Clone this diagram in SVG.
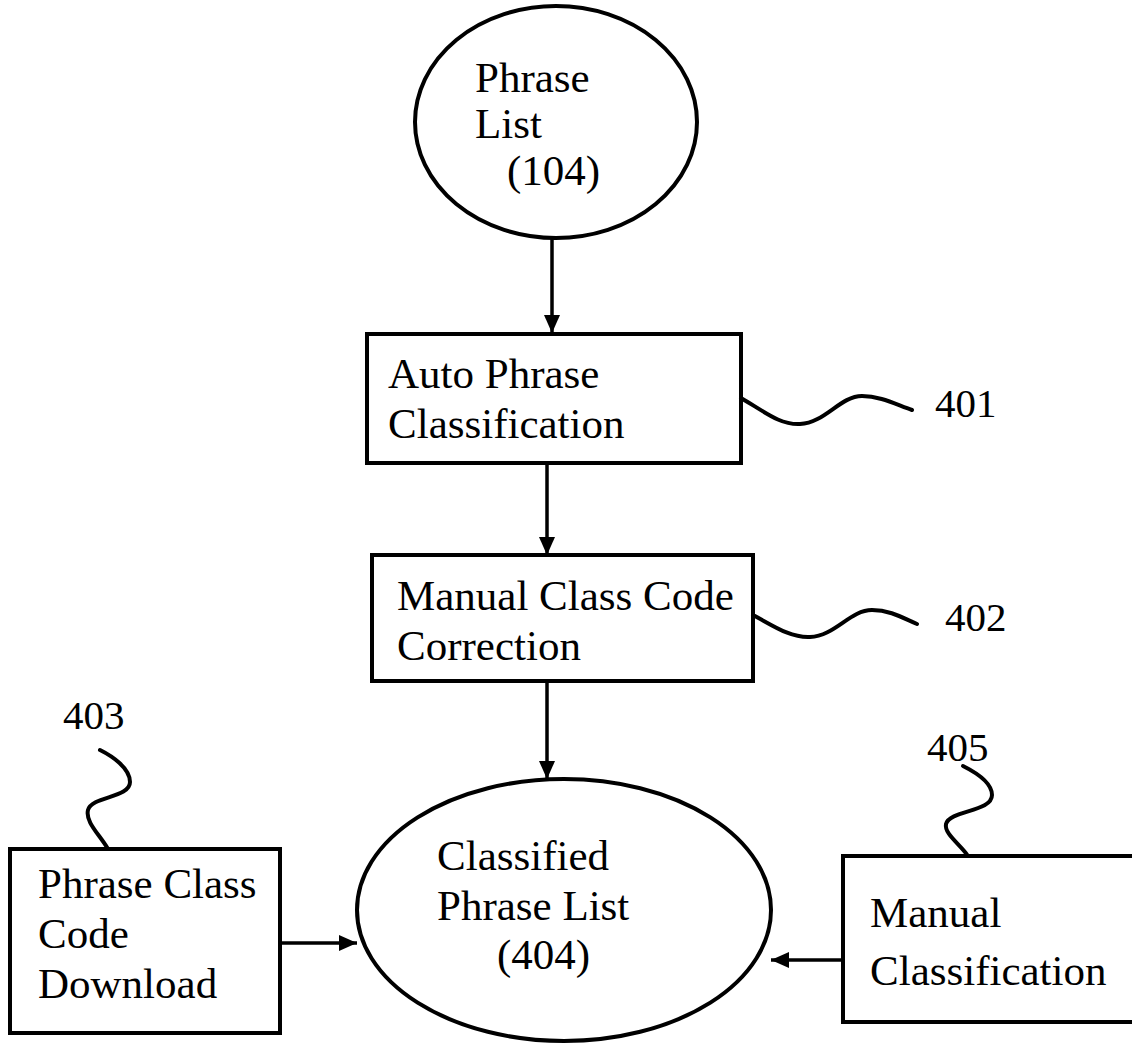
<svg xmlns="http://www.w3.org/2000/svg" width="1132" height="1048" viewBox="0 0 1132 1048">
  <style>
    .shape { fill: #ffffff; stroke: #000000; stroke-width: 4; }
    .conn { fill: none; stroke: #000000; stroke-width: 3.5; }
    .lead { fill: none; stroke: #000000; stroke-width: 4; stroke-linecap: round; }
    .t { font-family: "Liberation Serif", "Times New Roman", serif; font-size: 43px; fill: #000000; }
    .ref { font-family: "Liberation Serif", "Times New Roman", serif; font-size: 41px; fill: #000000; }
  </style>
  <defs>
    <marker id="arrow" markerUnits="userSpaceOnUse" markerWidth="18" markerHeight="16" refX="18" refY="8" orient="auto" viewBox="0 0 18 16">
      <path d="M0,0 L18,8 L0,16 Z" fill="#000000"/>
    </marker>
  </defs>
  <rect width="1132" height="1048" fill="#ffffff"/>

  <g id="connectors">
    <line class="conn" x1="552" y1="239" x2="552" y2="333" marker-end="url(#arrow)"/>
    <line class="conn" x1="547" y1="463" x2="547" y2="555" marker-end="url(#arrow)"/>
    <line class="conn" x1="547" y1="681" x2="547" y2="779" marker-end="url(#arrow)"/>
    <line class="conn" x1="280" y1="943" x2="357" y2="943" marker-end="url(#arrow)"/>
    <line class="conn" x1="843" y1="960" x2="771" y2="960" marker-end="url(#arrow)"/>
  </g>

  <g id="node-104">
    <ellipse class="shape" cx="556" cy="122" rx="141" ry="116"/>
    <text class="t" x="475" y="92">Phrase</text>
    <text class="t" x="475" y="138">List</text>
    <text class="t" x="507" y="185">(104)</text>
  </g>

  <g id="node-401">
    <rect class="shape" x="367" y="334" width="374" height="129"/>
    <text class="t" x="388" y="388">Auto Phrase</text>
    <text class="t" x="388" y="438">Classification</text>
    <path class="lead" d="M741,398 C765,412 780,425 800,424 C825,423 840,396 862,396 C880,396 895,404 912,410"/>
    <text class="ref" x="935" y="417">401</text>
  </g>

  <g id="node-402">
    <rect class="shape" x="372" y="555" width="381" height="126"/>
    <text class="t" x="397" y="610">Manual Class Code</text>
    <text class="t" x="397" y="660">Correction</text>
    <path class="lead" d="M753,615 C772,625 790,638 810,637 C835,636 850,610 872,610 C890,610 903,618 917,624"/>
    <text class="ref" x="945" y="631">402</text>
  </g>

  <g id="node-404">
    <ellipse class="shape" cx="564" cy="910" rx="207" ry="131"/>
    <text class="t" x="437" y="870">Classified</text>
    <text class="t" x="437" y="920">Phrase List</text>
    <text class="t" x="497" y="969">(404)</text>
  </g>

  <g id="node-403">
    <rect class="shape" x="10" y="849" width="270" height="184"/>
    <text class="t" x="38" y="898">Phrase Class</text>
    <text class="t" x="38" y="948">Code</text>
    <text class="t" x="38" y="998">Download</text>
    <path class="lead" d="M108,849 C100,835 85,822 88,810 C92,796 130,798 130,782 C130,768 112,756 100,750"/>
    <text class="ref" x="63" y="729">403</text>
  </g>

  <g id="node-405">
    <rect class="shape" x="843" y="856" width="300" height="166"/>
    <text class="t" x="870" y="927">Manual</text>
    <text class="t" x="870" y="985">Classification</text>
    <path class="lead" d="M968,856 C960,844 944,834 946,824 C950,810 992,812 992,795 C992,782 975,772 963,766"/>
    <text class="ref" x="927" y="761">405</text>
  </g>
</svg>
